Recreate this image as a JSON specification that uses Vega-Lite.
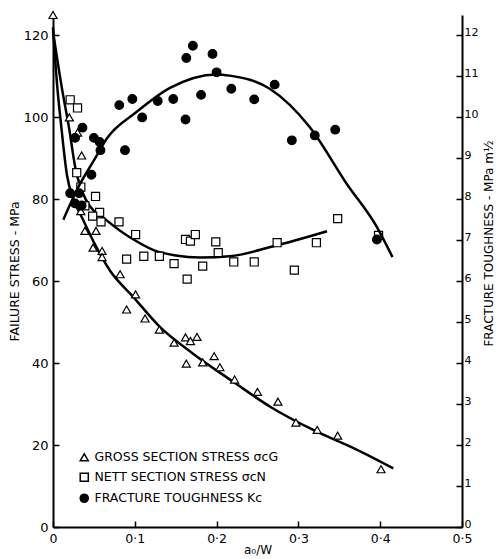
{
  "$schema": "https://vega.github.io/schema/vega-lite/v6.json",
  "width": 409,
  "height": 512,
  "autosize": "none",
  "padding": {"left": 53, "top": 15, "right": 35, "bottom": 32},
  "background": "white",
  "config": {
    "view": {"stroke": null},
    "font": "DejaVu Sans",
    "axis": {
      "domainColor": "black", "domainWidth": 2,
      "tickColor": "black", "tickWidth": 1.5, "tickSize": -6,
      "grid": false, "labelColor": "black", "titleColor": "black",
      "labelFont": "DejaVu Sans", "titleFont": "DejaVu Sans", "titleFontWeight": "normal"
    }
  },
  "datasets": {
    "left": [
      {"x": 0.0, "y": 125, "series": "GROSS SECTION STRESS σcG"},
      {"x": 0.020, "y": 100, "series": "GROSS SECTION STRESS σcG"},
      {"x": 0.030, "y": 96.3, "series": "GROSS SECTION STRESS σcG"},
      {"x": 0.035, "y": 90.7, "series": "GROSS SECTION STRESS σcG"},
      {"x": 0.034, "y": 77.1, "series": "GROSS SECTION STRESS σcG"},
      {"x": 0.039, "y": 72.3, "series": "GROSS SECTION STRESS σcG"},
      {"x": 0.0526, "y": 72.3, "series": "GROSS SECTION STRESS σcG"},
      {"x": 0.049, "y": 68.2, "series": "GROSS SECTION STRESS σcG"},
      {"x": 0.060, "y": 67.4, "series": "GROSS SECTION STRESS σcG"},
      {"x": 0.060, "y": 65.9, "series": "GROSS SECTION STRESS σcG"},
      {"x": 0.082, "y": 61.7, "series": "GROSS SECTION STRESS σcG"},
      {"x": 0.090, "y": 53.1, "series": "GROSS SECTION STRESS σcG"},
      {"x": 0.101, "y": 56.8, "series": "GROSS SECTION STRESS σcG"},
      {"x": 0.1125, "y": 50.9, "series": "GROSS SECTION STRESS σcG"},
      {"x": 0.130, "y": 48.2, "series": "GROSS SECTION STRESS σcG"},
      {"x": 0.148, "y": 45.0, "series": "GROSS SECTION STRESS σcG"},
      {"x": 0.162, "y": 46.3, "series": "GROSS SECTION STRESS σcG"},
      {"x": 0.168, "y": 45.4, "series": "GROSS SECTION STRESS σcG"},
      {"x": 0.176, "y": 46.4, "series": "GROSS SECTION STRESS σcG"},
      {"x": 0.163, "y": 39.9, "series": "GROSS SECTION STRESS σcG"},
      {"x": 0.183, "y": 40.2, "series": "GROSS SECTION STRESS σcG"},
      {"x": 0.197, "y": 41.7, "series": "GROSS SECTION STRESS σcG"},
      {"x": 0.204, "y": 39.0, "series": "GROSS SECTION STRESS σcG"},
      {"x": 0.222, "y": 36.0, "series": "GROSS SECTION STRESS σcG"},
      {"x": 0.250, "y": 33.0, "series": "GROSS SECTION STRESS σcG"},
      {"x": 0.275, "y": 30.6, "series": "GROSS SECTION STRESS σcG"},
      {"x": 0.297, "y": 25.5, "series": "GROSS SECTION STRESS σcG"},
      {"x": 0.323, "y": 23.7, "series": "GROSS SECTION STRESS σcG"},
      {"x": 0.348, "y": 22.3, "series": "GROSS SECTION STRESS σcG"},
      {"x": 0.401, "y": 14.1, "series": "GROSS SECTION STRESS σcG"},
      {"x": 0.021, "y": 104.3, "series": "NETT  SECTION STRESS σcN"},
      {"x": 0.030, "y": 102.3, "series": "NETT  SECTION STRESS σcN"},
      {"x": 0.029, "y": 86.5, "series": "NETT  SECTION STRESS σcN"},
      {"x": 0.034, "y": 83.0, "series": "NETT  SECTION STRESS σcN"},
      {"x": 0.039, "y": 78.4, "series": "NETT  SECTION STRESS σcN"},
      {"x": 0.052, "y": 80.7, "series": "NETT  SECTION STRESS σcN"},
      {"x": 0.057, "y": 76.8, "series": "NETT  SECTION STRESS σcN"},
      {"x": 0.0485, "y": 75.9, "series": "NETT  SECTION STRESS σcN"},
      {"x": 0.0587, "y": 74.5, "series": "NETT  SECTION STRESS σcN"},
      {"x": 0.0807, "y": 74.5, "series": "NETT  SECTION STRESS σcN"},
      {"x": 0.101, "y": 71.4, "series": "NETT  SECTION STRESS σcN"},
      {"x": 0.090, "y": 65.4, "series": "NETT  SECTION STRESS σcN"},
      {"x": 0.111, "y": 66.1, "series": "NETT  SECTION STRESS σcN"},
      {"x": 0.130, "y": 66.1, "series": "NETT  SECTION STRESS σcN"},
      {"x": 0.148, "y": 64.3, "series": "NETT  SECTION STRESS σcN"},
      {"x": 0.164, "y": 60.5, "series": "NETT  SECTION STRESS σcN"},
      {"x": 0.183, "y": 63.7, "series": "NETT  SECTION STRESS σcN"},
      {"x": 0.162, "y": 70.2, "series": "NETT  SECTION STRESS σcN"},
      {"x": 0.168, "y": 69.8, "series": "NETT  SECTION STRESS σcN"},
      {"x": 0.174, "y": 71.4, "series": "NETT  SECTION STRESS σcN"},
      {"x": 0.199, "y": 69.6, "series": "NETT  SECTION STRESS σcN"},
      {"x": 0.202, "y": 67.0, "series": "NETT  SECTION STRESS σcN"},
      {"x": 0.221, "y": 64.7, "series": "NETT  SECTION STRESS σcN"},
      {"x": 0.246, "y": 64.7, "series": "NETT  SECTION STRESS σcN"},
      {"x": 0.274, "y": 69.4, "series": "NETT  SECTION STRESS σcN"},
      {"x": 0.322, "y": 69.4, "series": "NETT  SECTION STRESS σcN"},
      {"x": 0.295, "y": 62.7, "series": "NETT  SECTION STRESS σcN"},
      {"x": 0.348, "y": 75.3, "series": "NETT  SECTION STRESS σcN"},
      {"x": 0.398, "y": 71.2, "series": "NETT  SECTION STRESS σcN"}
    ],
    "kc": [
      {"x": 0.021, "k": 8.15, "series": "FRACTURE TOUGHNESS Kc"},
      {"x": 0.027, "k": 7.9, "series": "FRACTURE TOUGHNESS Kc"},
      {"x": 0.032, "k": 8.15, "series": "FRACTURE TOUGHNESS Kc"},
      {"x": 0.035, "k": 7.85, "series": "FRACTURE TOUGHNESS Kc"},
      {"x": 0.027, "k": 9.5, "series": "FRACTURE TOUGHNESS Kc"},
      {"x": 0.036, "k": 9.75, "series": "FRACTURE TOUGHNESS Kc"},
      {"x": 0.047, "k": 8.6, "series": "FRACTURE TOUGHNESS Kc"},
      {"x": 0.050, "k": 9.5, "series": "FRACTURE TOUGHNESS Kc"},
      {"x": 0.057, "k": 9.4, "series": "FRACTURE TOUGHNESS Kc"},
      {"x": 0.058, "k": 9.2, "series": "FRACTURE TOUGHNESS Kc"},
      {"x": 0.081, "k": 10.3, "series": "FRACTURE TOUGHNESS Kc"},
      {"x": 0.088, "k": 9.2, "series": "FRACTURE TOUGHNESS Kc"},
      {"x": 0.097, "k": 10.45, "series": "FRACTURE TOUGHNESS Kc"},
      {"x": 0.109, "k": 10.0, "series": "FRACTURE TOUGHNESS Kc"},
      {"x": 0.128, "k": 10.4, "series": "FRACTURE TOUGHNESS Kc"},
      {"x": 0.147, "k": 10.45, "series": "FRACTURE TOUGHNESS Kc"},
      {"x": 0.162, "k": 9.95, "series": "FRACTURE TOUGHNESS Kc"},
      {"x": 0.163, "k": 11.45, "series": "FRACTURE TOUGHNESS Kc"},
      {"x": 0.171, "k": 11.75, "series": "FRACTURE TOUGHNESS Kc"},
      {"x": 0.181, "k": 10.55, "series": "FRACTURE TOUGHNESS Kc"},
      {"x": 0.195, "k": 11.55, "series": "FRACTURE TOUGHNESS Kc"},
      {"x": 0.200, "k": 11.1, "series": "FRACTURE TOUGHNESS Kc"},
      {"x": 0.218, "k": 10.7, "series": "FRACTURE TOUGHNESS Kc"},
      {"x": 0.246, "k": 10.44, "series": "FRACTURE TOUGHNESS Kc"},
      {"x": 0.271, "k": 10.8, "series": "FRACTURE TOUGHNESS Kc"},
      {"x": 0.292, "k": 9.44, "series": "FRACTURE TOUGHNESS Kc"},
      {"x": 0.320, "k": 9.56, "series": "FRACTURE TOUGHNESS Kc"},
      {"x": 0.345, "k": 9.7, "series": "FRACTURE TOUGHNESS Kc"},
      {"x": 0.396, "k": 7.02, "series": "FRACTURE TOUGHNESS Kc"}
    ],
    "leftfit": [
      {"x": 0.0, "y": 122, "curve": "gross"},
      {"x": 0.005, "y": 108, "curve": "gross"},
      {"x": 0.010, "y": 98, "curve": "gross"},
      {"x": 0.017, "y": 86, "curve": "gross"},
      {"x": 0.025, "y": 80, "curve": "gross"},
      {"x": 0.036, "y": 75.3, "curve": "gross"},
      {"x": 0.050, "y": 69.5, "curve": "gross"},
      {"x": 0.070, "y": 62.5, "curve": "gross"},
      {"x": 0.098, "y": 56.2, "curve": "gross"},
      {"x": 0.130, "y": 49, "curve": "gross"},
      {"x": 0.170, "y": 42.5, "curve": "gross"},
      {"x": 0.220, "y": 35.5, "curve": "gross"},
      {"x": 0.266, "y": 29.3, "curve": "gross"},
      {"x": 0.320, "y": 23.5, "curve": "gross"},
      {"x": 0.370, "y": 19, "curve": "gross"},
      {"x": 0.416, "y": 14.3, "curve": "gross"},
      {"x": 0.0, "y": 121, "curve": "nett"},
      {"x": 0.011, "y": 107, "curve": "nett"},
      {"x": 0.020, "y": 97, "curve": "nett"},
      {"x": 0.027, "y": 88, "curve": "nett"},
      {"x": 0.040, "y": 80, "curve": "nett"},
      {"x": 0.068, "y": 74.5, "curve": "nett"},
      {"x": 0.100, "y": 70, "curve": "nett"},
      {"x": 0.123, "y": 67.6, "curve": "nett"},
      {"x": 0.150, "y": 66.3, "curve": "nett"},
      {"x": 0.180, "y": 65.8, "curve": "nett"},
      {"x": 0.216, "y": 66.1, "curve": "nett"},
      {"x": 0.267, "y": 68.4, "curve": "nett"},
      {"x": 0.335, "y": 72.2, "curve": "nett"}
    ],
    "kcfit": [
      {"x": 0.0126, "k": 7.5},
      {"x": 0.031, "k": 8.3},
      {"x": 0.050, "k": 8.95},
      {"x": 0.0656, "k": 9.48},
      {"x": 0.102, "k": 10.13},
      {"x": 0.143, "k": 10.72},
      {"x": 0.200, "k": 11.05},
      {"x": 0.216, "k": 11.02},
      {"x": 0.265, "k": 10.7},
      {"x": 0.314, "k": 9.76},
      {"x": 0.359, "k": 8.38},
      {"x": 0.396, "k": 7.32},
      {"x": 0.415, "k": 6.59}
    ]
  },
  "layer": [
    {
      "layer": [
        {
          "data": {"name": "leftfit"},
          "mark": {"type": "line", "color": "black", "strokeWidth": 2.5, "interpolate": "monotone"},
          "encoding": {
            "x": {"field": "x", "type": "quantitative"},
            "y": {"field": "y", "type": "quantitative"},
            "detail": {"field": "curve"}
          }
        },
        {
          "data": {"name": "left"},
          "mark": {"type": "point", "filled": false, "stroke": "black", "strokeWidth": 1.2, "size": 65, "opacity": 1},
          "encoding": {
            "x": {
              "field": "x", "type": "quantitative",
              "scale": {"domain": [0, 0.5], "nice": false},
              "axis": {
                "title": "a₀/W", "values": [0, 0.1, 0.2, 0.3, 0.4, 0.5],
                "labelExpr": "datum.value == 0 ? '0' : replace(format(datum.value, '.1f'), '.', '·')",
                "labelFontSize": 12.5, "titleFontSize": 12, "labelPadding": 11, "titlePadding": 0, "labelFlush": false,
                "labelColor": "black", "titleColor": "black"
              }
            },
            "y": {
              "field": "y", "type": "quantitative",
              "scale": {"domain": [0, 125], "nice": false},
              "axis": {
                "orient": "left", "title": "FAILURE STRESS - MPa", "values": [0, 20, 40, 60, 80, 100, 120],
                "labelFontSize": 13, "titleFontSize": 12.5, "labelPadding": 11, "titlePadding": 2,
                "labelColor": "black", "titleColor": "black"
              }
            },
            "shape": {
              "field": "series", "type": "nominal",
              "scale": {"domain": ["GROSS SECTION STRESS σcG", "NETT  SECTION STRESS σcN", "FRACTURE TOUGHNESS Kc"], "range": ["triangle-up", "square", "circle"]},
              "legend": {
                "orient": "none", "legendX": 25, "legendY": 436, "title": null,
                "labelFontSize": 12.5, "labelFont": "DejaVu Sans", "labelColor": "black", "labelLimit": 400,
                "symbolSize": 65, "rowPadding": 6,
                "encode": {"symbols": {"update": {"stroke": {"value": "black"}, "strokeWidth": {"value": 1.2}}}}
              }
            },
            "fill": {
              "field": "series", "type": "nominal",
              "scale": {"domain": ["GROSS SECTION STRESS σcG", "NETT  SECTION STRESS σcN", "FRACTURE TOUGHNESS Kc"], "range": ["white", "white", "black"]},
              "legend": {
                "orient": "none", "legendX": 25, "legendY": 436, "title": null,
                "labelFontSize": 12.5, "labelFont": "DejaVu Sans", "labelColor": "black", "labelLimit": 400,
                "symbolSize": 65, "rowPadding": 6,
                "encode": {"symbols": {"update": {"stroke": {"value": "black"}, "strokeWidth": {"value": 1.2}}}}
              }
            }
          }
        }
      ]
    },
    {
      "layer": [
        {
          "data": {"name": "kcfit"},
          "mark": {"type": "line", "color": "black", "strokeWidth": 2.5, "interpolate": "monotone"},
          "encoding": {
            "x": {"field": "x", "type": "quantitative"},
            "y": {"field": "k", "type": "quantitative"}
          }
        },
        {
          "data": {"name": "kc"},
          "mark": {"type": "point", "filled": true, "stroke": "black", "strokeWidth": 1.2, "size": 75, "opacity": 1},
          "encoding": {
            "x": {"field": "x", "type": "quantitative"},
            "y": {
              "field": "k", "type": "quantitative",
              "scale": {"domain": [0, 12.5], "nice": false},
              "axis": {
                "orient": "right", "title": "FRACTURE TOUGHNESS - MPa m½",
                "values": [0, 1, 2, 3, 4, 5, 6, 7, 8, 9, 10, 11, 12],
                "labelFontSize": 11, "titleFontSize": 12, "labelPadding": 8, "titlePadding": 18, "labelOffset": -3,
                "titleAngle": 270, "titleY": 228, "labelColor": "black", "titleColor": "black"
              }
            },
            "shape": {"field": "series", "type": "nominal"},
            "fill": {"field": "series", "type": "nominal"}
          }
        }
      ]
    }
  ],
  "resolve": {"scale": {"y": "independent"}}
}
